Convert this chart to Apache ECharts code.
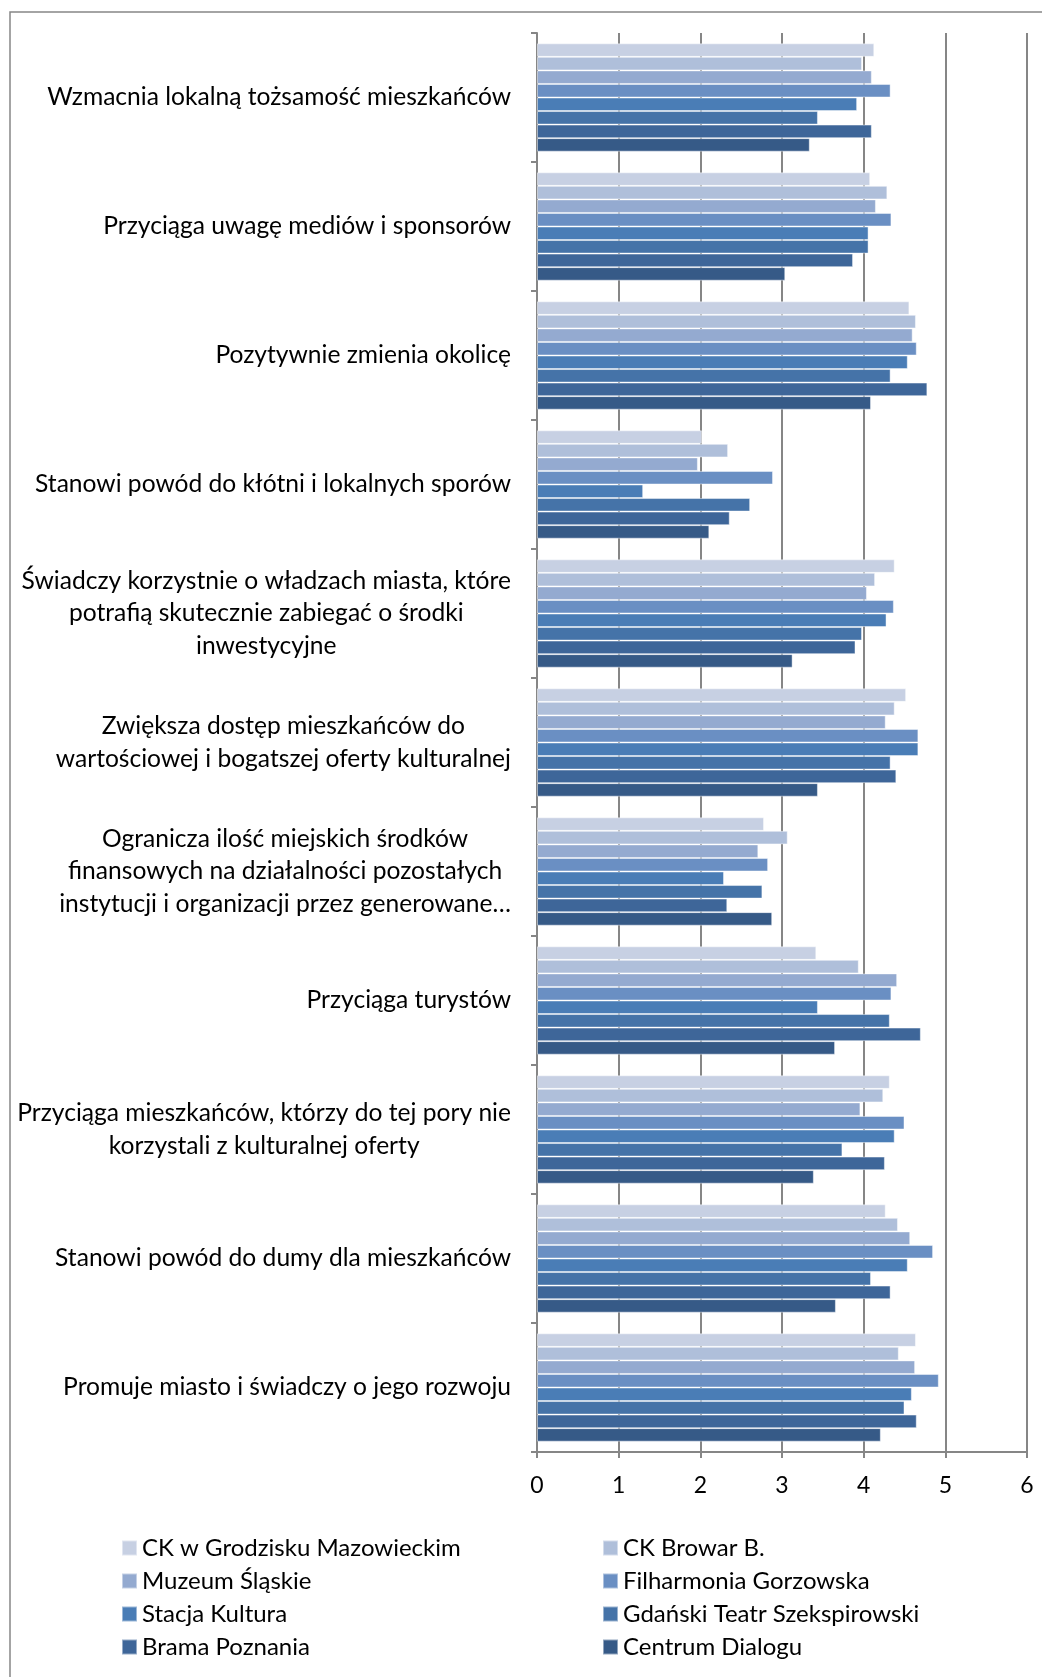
<!DOCTYPE html>
<html>
<head>
<meta charset="utf-8">
<script src="https://cdn.jsdelivr.net/npm/echarts@6/dist/echarts.min.js"></script>
<style>
html,body{margin:0;padding:0;background:#fff;}
#chart{width:1042px;height:1677px;}
</style>
</head>
<body>
<div id="chart"></div>
<script>
const categories = [
  "Wzmacnia lokalną tożsamość mieszkańców",
  "Przyciąga uwagę mediów i sponsorów",
  "Pozytywnie zmienia okolicę",
  "Stanowi powód do kłótni i lokalnych sporów",
  "Świadczy korzystnie o władzach miasta, które\npotrafią skutecznie zabiegać o środki\ninwestycyjne",
  "Zwiększa dostęp mieszkańców do\nwartościowej i bogatszej oferty kulturalnej",
  "Ogranicza ilość miejskich środków\nfinansowych na działalności pozostałych\ninstytucji i organizacji przez generowane…",
  "Przyciąga turystów",
  "Przyciąga mieszkańców, którzy do tej pory nie\nkorzystali z kulturalnej oferty",
  "Stanowi powód do dumy dla mieszkańców",
  "Promuje miasto i świadczy o jego rozwoju"
];
const seriesNames = [
  "CK w Grodzisku Mazowieckim",
  "CK Browar B.",
  "Muzeum Śląskie",
  "Filharmonia Gorzowska",
  "Stacja Kultura",
  "Gdański Teatr Szekspirowski",
  "Brama Poznania",
  "Centrum Dialogu"
];
const ckGrodzisk   = [4.13, 4.08, 4.56, 2.02, 4.38, 4.52, 2.78, 3.42, 4.32, 4.27, 4.64];
const ckBrowar     = [3.98, 4.29, 4.64, 2.34, 4.14, 4.38, 3.07, 3.94, 4.24, 4.42, 4.43];
const muzeumSlaskie= [4.10, 4.15, 4.60, 1.97, 4.04, 4.27, 2.71, 4.41, 3.96, 4.57, 4.63];
const filharmonia  = [4.33, 4.34, 4.65, 2.89, 4.37, 4.67, 2.83, 4.34, 4.50, 4.85, 4.92];
const stacjaKultura= [3.92, 4.06, 4.54, 1.30, 4.28, 4.67, 2.29, 3.44, 4.38, 4.54, 4.59];
const gdanskiTeatr = [3.44, 4.06, 4.33, 2.61, 3.98, 4.33, 2.76, 4.32, 3.74, 4.09, 4.50];
const bramaPoznania= [4.10, 3.87, 4.78, 2.36, 3.90, 4.40, 2.33, 4.70, 4.26, 4.33, 4.65];
const centrumDialogu=[3.34, 3.04, 4.09, 2.11, 3.13, 3.44, 2.88, 3.65, 3.39, 3.66, 4.21];
const xTicks = [0, 1, 2, 3, 4, 5, 6];

const allValues = [ckGrodzisk, ckBrowar, muzeumSlaskie, filharmonia, stacjaKultura, gdanskiTeatr, bramaPoznania, centrumDialogu];
const colors = ['#C7D0E3', '#AFBFDA', '#94AAD0', '#6A8FC3', '#4A7DB6', '#4573A8', '#3E6699', '#365A87'];

const FONT = 'Lato';
const chart = echarts.init(document.getElementById('chart'), null, {renderer: 'canvas'});

const series = seriesNames.map((n, i) => ({
  name: n,
  type: 'bar',
  data: allValues[i],
  barGap: '0%',
  barCategoryGap: '16%',
  itemStyle: {color: colors[i], borderColor: 'rgba(255,255,255,0.45)', borderWidth: 1},
  emphasis: {disabled: true},
  animation: false
}));

const legendCommon = {
  orient: 'vertical', top: 1536, padding: 0,
  icon: 'rect', itemWidth: 15, itemHeight: 15, itemGap: 9,
  textStyle: {fontSize: 24, lineHeight: 24, color: '#000', fontFamily: FONT},
  selectedMode: false
};

chart.setOption({
  animation: false,
  backgroundColor: '#fff',
  textStyle: {fontFamily: FONT, color: '#000'},
  graphic: [{
    type: 'rect', silent: true,
    shape: {x: 10, y: 12, width: 1100, height: 1760},
    style: {fill: 'none', stroke: '#868686', lineWidth: 1.5}
  }],
  grid: {left: 537, top: 33, width: 490, height: 1419, containLabel: false},
  xAxis: {
    type: 'value', min: 0, max: 6, interval: 1,
    axisLine: {show: true, lineStyle: {color: '#868686', width: 2}},
    axisTick: {show: true, length: 6, lineStyle: {color: '#868686', width: 2}},
    splitLine: {show: true, lineStyle: {color: '#868686', width: 2}},
    axisLabel: {fontSize: 23, color: '#000', margin: 22, fontFamily: FONT,
      formatter: v => String(xTicks[xTicks.indexOf(v)])}
  },
  yAxis: {
    type: 'category', data: categories, inverse: true,
    axisLine: {show: true, lineStyle: {color: '#868686', width: 2}},
    axisTick: {show: true, length: 6, lineStyle: {color: '#868686', width: 2}},
    splitLine: {show: false},
    axisLabel: {
      fontSize: 24.6, color: '#000', margin: 26, align: 'right', fontFamily: FONT,
      formatter: v => v.split('\n').map(l => '{c|' + l + '}').join('\n'),
      rich: {c: {align: 'center', fontSize: 24.6, lineHeight: 32.6, fontFamily: FONT, color: '#000'}}
    }
  },
  legend: [
    Object.assign({}, legendCommon, {
      data: [seriesNames[0], seriesNames[2], seriesNames[4], seriesNames[6]], left: 121
    }),
    Object.assign({}, legendCommon, {
      data: [seriesNames[1], seriesNames[3], seriesNames[5], seriesNames[7]], left: 602
    })
  ],
  series: series
});
</script>
</body>
</html>
